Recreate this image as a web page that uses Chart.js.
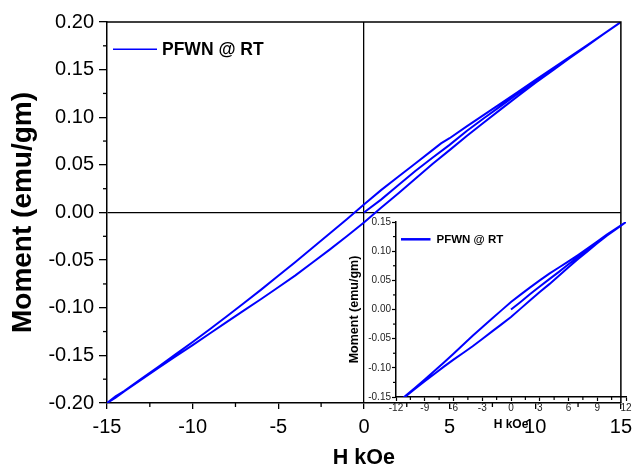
<!DOCTYPE html>
<html><head><meta charset="utf-8">
<script src="https://cdn.jsdelivr.net/npm/chart.js@4.4.1/dist/chart.umd.min.js"></script>
<style>
html,body{margin:0;padding:0;background:#fff;}
#wrap{position:relative;width:638px;height:467px;overflow:hidden;background:#fff;}
#main{position:absolute;left:0;top:0;width:638px;height:467px;}
#inset{position:absolute;left:340px;top:213px;width:298px;height:254px;}
</style></head><body>
<div id="wrap"><canvas id="main" width="638" height="467"></canvas><canvas id="inset" width="298" height="254"></canvas></div>
<script>
// ---------- data ----------
const seriesLabel = 'PFWN @ RT';
const xTitle = 'H kOe';
const yTitle = 'Moment (emu/gm)';

// main loop: initial (virgin) curve, descending branch, ascending branch
const virginH = [0,1,2,3,4,5,6,7,8,9,10,11,12,13,14,15];
const virginM = [0,0.0135,0.0285,0.0435,0.0575,0.071,0.0855,0.099,0.112,0.125,0.1375,0.150,0.1625,0.175,0.1875,0.200];
const upperH = [15,14,13,12,11,10,9,8,7,6,5,4.5,4,3,2,1,0,-1,-2,-3,-4,-5,-6,-7,-8,-9,-10,-11,-12,-13,-14,-14.5,-15];
const upperM = [0.200,0.1876,0.1753,0.1631,0.151,0.139,0.1267,0.1145,0.1025,0.0905,0.078,0.0725,0.0655,0.0515,0.0375,0.0235,0.0085,-0.007,-0.022,-0.037,-0.052,-0.0665,-0.081,-0.095,-0.109,-0.1225,-0.136,-0.149,-0.162,-0.1747,-0.1874,-0.193,-0.200];
const lowerH = [-15,-14.5,-14,-13,-12,-11,-10,-9,-8,-7,-6,-5,-4,-3,-2,-1,0,1,2,3,4,5,6,7,8,9,10,11,12,13,14,15];
const lowerM = [-0.200,-0.1945,-0.1878,-0.1755,-0.1633,-0.1512,-0.1392,-0.127,-0.1148,-0.1028,-0.0908,-0.0785,-0.066,-0.0525,-0.039,-0.025,-0.0105,0.005,0.020,0.0355,0.051,0.0655,0.0803,0.0945,0.1085,0.1223,0.136,0.149,0.1619,0.1747,0.1874,0.200];

// inset loop
const insetVirginH = [0,1,2,3,4,5,6,7,8,9,10,11,12];
const insetVirginM = [0,0.0130,0.0265,0.0395,0.052,0.0645,0.0775,0.09,0.1025,0.115,0.1275,0.1385,0.150];
const insetUpperH = [12,11,10,9,8,7,6,5,4,3,2,1,0,-1,-2,-3,-4,-5,-6,-7,-8,-9,-10,-11,-12,-13];
const insetUpperM = [0.150,0.139,0.1285,0.1165,0.105,0.0935,0.0825,0.072,0.0615,0.050,0.038,0.0255,0.013,-0.0015,-0.016,-0.0305,-0.045,-0.0605,-0.076,-0.091,-0.1055,-0.120,-0.134,-0.148,-0.162,-0.1755];
const insetLowerH = [-13,-12,-11,-10,-9,-8,-7,-6,-5,-4,-3,-2,-1,0,1,2,3,4,5,6,7,8,9,10,11,12];
const insetLowerM = [-0.1755,-0.162,-0.149,-0.136,-0.123,-0.1105,-0.098,-0.086,-0.0745,-0.063,-0.0505,-0.038,-0.0255,-0.013,0.0015,0.016,0.030,0.0435,0.058,0.0725,0.0865,0.100,0.1135,0.1265,0.138,0.150];

// tick values / labels
const mainXTicks = [-15,-10,-5,0,5,10,15];
const mainXTickLabels = ['-15','-10','-5','0','5','10','15'];
const mainYTicks = [-0.20,-0.15,-0.10,-0.05,0,0.05,0.10,0.15,0.20];
const mainYTickLabels = ['-0.20','-0.15','-0.10','-0.05','0.00','0.05','0.10','0.15','0.20'];
const insetXTicks = [-12,-9,-6,-3,0,3,6,9,12];
const insetXTickLabels = ['-12','-9','-6','-3','0','3','6','9','12'];
const insetYTicks = [-0.15,-0.10,-0.05,0,0.05,0.10,0.15];
const insetYTickLabels = ['-0.15','-0.10','-0.05','0.00','0.05','0.10','0.15'];

// ---------- helpers ----------
const FONT = "'Liberation Sans', Arial, Helvetica, sans-serif";
const BLUE = '#0000ff';
function pts(hs, ms){ return hs.map((h,i)=>({x:h, y:ms[i]})); }
function labelFor(values, labels){ return (v)=>{ const i = values.findIndex(t=>Math.abs(t-v)<1e-9); return i<0 ? '' : labels[i]; }; }
function fixTicks(values){ return (s)=>{ s.ticks = values.map(v=>({value:v})); }; }

const minorTicksPlugin = {
  id: 'minorTicks',
  afterDraw(chart, args, opts) {
    const ctx = chart.ctx;
    ctx.save();
    ctx.strokeStyle = '#000';
    ctx.lineWidth = opts.width || 1;
    for (const id of ['x','y']) {
      const o = opts[id]; if (!o) continue;
      const s = chart.scales[id];
      const n = Math.round((s.max - s.min) / o.step);
      for (let i = 0; i <= n; i++) {
        const v = s.min + i * o.step;
        const r = v / o.major;
        if (Math.abs(r - Math.round(r)) < 1e-6) continue;
        const p = s.getPixelForValue(v);
        ctx.beginPath();
        if (id === 'x') { ctx.moveTo(p, s.top); ctx.lineTo(p, s.top + o.len); }
        else { ctx.moveTo(s.right, p); ctx.lineTo(s.right - o.len, p); }
        ctx.stroke();
      }
    }
    ctx.restore();
  }
};
const framePlugin = {
  id: 'frame',
  afterDraw(chart, args, opts) {
    if (!opts.display) return;
    const {left, top, right, bottom} = chart.chartArea;
    const ctx = chart.ctx;
    ctx.save();
    ctx.strokeStyle = '#000';
    ctx.lineWidth = opts.width;
    ctx.beginPath();
    ctx.moveTo(left, top); ctx.lineTo(right, top); ctx.lineTo(right, bottom);
    ctx.stroke();
    ctx.restore();
  }
};
// legend entry (line sample + series name) placed inside the plot area
const lineLegendPlugin = {
  id: 'lineLegend',
  afterDraw(chart, args, o) {
    const ds = chart.data.datasets[0];
    const {left, top} = chart.chartArea;
    const ctx = chart.ctx;
    const x0 = left + o.dx, y = top + o.dy;
    ctx.save();
    ctx.strokeStyle = ds.borderColor;
    ctx.lineWidth = o.lineWidth;
    ctx.beginPath(); ctx.moveTo(x0, y); ctx.lineTo(x0 + o.length, y); ctx.stroke();
    ctx.fillStyle = '#000';
    ctx.font = 'bold ' + o.size + 'px ' + FONT;
    ctx.textBaseline = 'middle'; ctx.textAlign = 'left';
    ctx.fillText(ds.label, x0 + o.length + o.gap, y + 0.5);
    ctx.restore();
  }
};
const zeroLine = (ctx)=> (ctx.tick && Math.abs(ctx.tick.value) < 1e-9) ? '#000' : 'rgba(0,0,0,0)';

// ---------- main chart ----------
new Chart(document.getElementById('main'), {
  type: 'scatter',
  data: { datasets: [{
    label: seriesLabel,
    data: [].concat(pts(virginH, virginM), pts(upperH, upperM), pts(lowerH, lowerM)),
    showLine: true, borderColor: BLUE, backgroundColor: BLUE, borderWidth: 2,
    pointRadius: 0, tension: 0
  }]},
  options: {
    responsive: false, animation: false, devicePixelRatio: 1,
    layout: { padding: { left: 0, top: 22, right: 12, bottom: 0 } },
    scales: {
      x: {
        type: 'linear', min: -15, max: 15,
        afterBuildTicks: fixTicks(mainXTicks),
        afterFit: (s)=>{ s.height = 64; },
        ticks: { callback: labelFor(mainXTicks, mainXTickLabels), color: '#000', font: { family: FONT, size: 20 }, padding: 6, maxRotation: 0, autoSkip: false },
        grid: { drawOnChartArea: true, color: zeroLine, lineWidth: 1.3, drawTicks: true, tickColor: '#000', tickLength: 6, tickWidth: 1.3 },
        border: { display: true, color: '#000', width: 1.5 },
        title: { display: true, text: xTitle, color: '#000', font: { family: FONT, size: 21.5, weight: 'bold', lineHeight: 0.8 }, padding: { top: 0, bottom: 0 } }
      },
      y: {
        type: 'linear', min: -0.2, max: 0.2,
        afterBuildTicks: fixTicks(mainYTicks),
        afterFit: (s)=>{ s.width = 107; },
        ticks: { callback: labelFor(mainYTicks, mainYTickLabels), color: '#000', font: { family: FONT, size: 20 }, padding: 5, autoSkip: false },
        grid: { drawOnChartArea: true, color: zeroLine, lineWidth: 1.3, drawTicks: true, tickColor: '#000', tickLength: 8, tickWidth: 1.3 },
        border: { display: true, color: '#000', width: 1.5 },
        title: { display: true, text: yTitle, color: '#000', font: { family: FONT, size: 28, weight: 'bold', lineHeight: 1 }, padding: { top: 9, bottom: 0 } }
      }
    },
    plugins: {
      tooltip: { enabled: false },
      legend: { display: false },
      lineLegend: { dx: 6, dy: 27.3, length: 44, gap: 5, size: 17.5, lineWidth: 1.5 },
      minorTicks: { width: 1.3, x: { step: 2.5, major: 5, len: 4 }, y: { step: 0.025, major: 0.05, len: 4 } },
      frame: { display: true, width: 1.5 }
    }
  },
  plugins: [minorTicksPlugin, framePlugin, lineLegendPlugin]
});

// ---------- inset chart ----------
new Chart(document.getElementById('inset'), {
  type: 'scatter',
  data: { datasets: [{
    label: seriesLabel,
    data: [].concat(pts(insetVirginH, insetVirginM), pts(insetUpperH, insetUpperM), pts(insetLowerH, insetLowerM)),
    showLine: true, borderColor: BLUE, backgroundColor: BLUE, borderWidth: 2,
    pointRadius: 0, tension: 0
  }]},
  options: {
    responsive: false, animation: false, devicePixelRatio: 1,
    layout: { padding: { left: 0, top: 9, right: 12, bottom: 0 } },
    scales: {
      x: {
        type: 'linear', min: -12, max: 12,
        afterBuildTicks: fixTicks(insetXTicks),
        afterFit: (s)=>{ s.height = 70; },
        ticks: { callback: labelFor(insetXTicks, insetXTickLabels), color: '#222', font: { family: FONT, size: 10 }, padding: 1, maxRotation: 0, autoSkip: false },
        grid: { drawOnChartArea: false, drawTicks: true, tickColor: '#000', tickLength: 4, tickWidth: 1.2 },
        border: { display: true, color: '#000', width: 1.5 },
        title: { display: true, text: xTitle, color: '#000', font: { family: FONT, size: 12, weight: 'bold', lineHeight: 1 }, padding: { top: 0, bottom: 36 } }
      },
      y: {
        type: 'linear', min: -0.15, max: 0.15,
        afterBuildTicks: fixTicks(insetYTicks),
        afterFit: (s)=>{ s.width = 56; },
        ticks: { callback: labelFor(insetYTicks, insetYTickLabels), color: '#222', font: { family: FONT, size: 10 }, padding: 1, autoSkip: false },
        grid: { drawOnChartArea: false, drawTicks: true, tickColor: '#000', tickLength: 4, tickWidth: 1.2 },
        border: { display: true, color: '#000', width: 1.5 },
        title: { display: true, text: yTitle, color: '#000', font: { family: FONT, size: 12.5, weight: 'bold', lineHeight: 1 }, padding: { top: 8.5, bottom: 0 } }
      }
    },
    plugins: {
      tooltip: { enabled: false },
      legend: { display: false },
      lineLegend: { dx: 5, dy: 17.3, length: 29.5, gap: 6, size: 11.5, lineWidth: 2.5 },
      minorTicks: { width: 1.2, x: { step: 1.5, major: 3, len: 3 }, y: { step: 0.025, major: 0.05, len: 3 } }
    }
  },
  plugins: [minorTicksPlugin, lineLegendPlugin]
});
</script>
</body></html>
